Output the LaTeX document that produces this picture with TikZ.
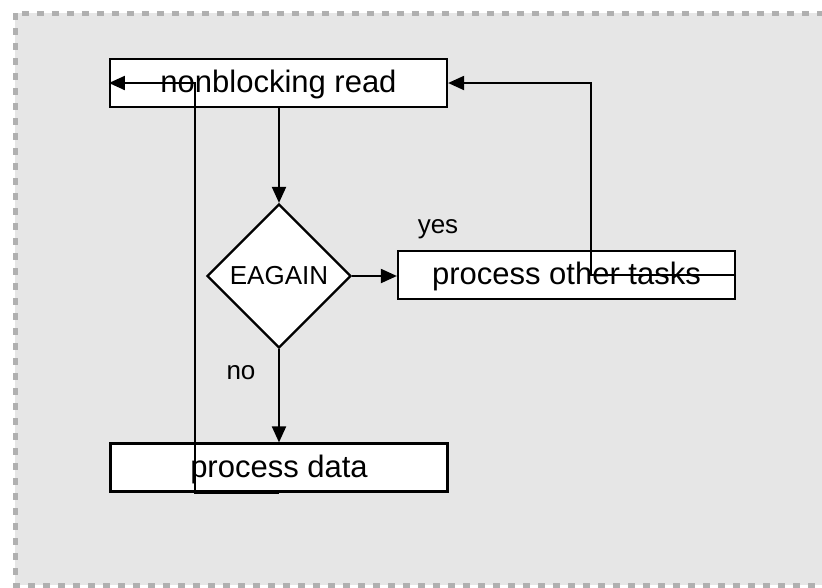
\documentclass[tikz,border=0pt]{standalone}
\usepackage{fontspec}
\setmainfont{Liberation Sans}
\usetikzlibrary{shapes.geometric,arrows.meta}
\definecolor{bgfill}{HTML}{E6E6E6}
\definecolor{bgdash}{HTML}{B0B0B0}
\tikzset{
  procbox/.style={draw=black,fill=white,line width=2.2pt,rectangle,minimum width=337pt,minimum height=48pt,inner sep=0pt,text height=20pt,text depth=1pt,font=\fontsize{31}{36}\selectfont},
  decbox/.style={draw=black,fill=white,line width=2.2pt,diamond,minimum width=144pt,minimum height=144pt,inner sep=0pt,font=\fontsize{26}{30}\selectfont},
  conn/.style={line width=2pt,-{Triangle[length=16pt,width=14pt]}},
  lbl/.style={font=\fontsize{26}{30}\selectfont,inner sep=0pt}
}
\begin{document}
\begin{tikzpicture}[x=1pt,y=-1pt]
\useasboundingbox (0,0) rectangle (822,587);
\begin{scope}
\clip (0,0) rectangle (822,587);
\draw[fill=bgfill,draw=bgdash,line width=5pt,dash pattern=on 7pt off 8pt] (15,13) rectangle (860,585);
\end{scope}
\node[procbox] (nbr) at (278.5,83) {nonblocking read};
\node[decbox] (eag) at (279,276) {EAGAIN};
\node[procbox] (pot) at (566.5,275) {process other tasks};
\node[procbox] (pd) at (279,467.5) {process data};
\node[lbl] (yes) at (438,229) {yes};
\node[lbl] (no) at (241,373) {no};
\coordinate (c1) at (195,83);
\coordinate (c2) at (591,83);
\draw[conn] (nbr.south -| eag.north) -- (eag.north);
\draw[conn] (eag.east) -- (eag.east -| pot.west);
\draw[conn] (eag.south) -- (pd.north);
\draw[conn] (pot.east) -- (pot.east -| c2) -- (c2) -- (nbr.east);
\draw[conn] (pd.south) -- (pd.south -| c1) -- (c1) -- (nbr.west);
\end{tikzpicture}
\end{document}
